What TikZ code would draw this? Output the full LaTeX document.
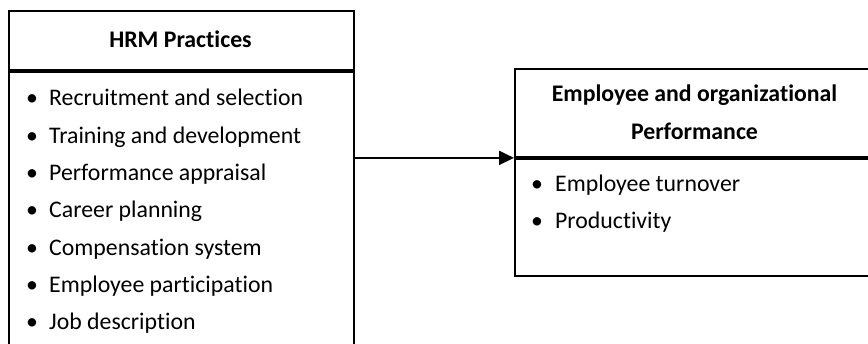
\documentclass[tikz,border=0pt]{standalone}
\usepackage{fontspec}
\setmainfont{Carlito}[Ligatures=NoCommon]
\usetikzlibrary{arrows.meta}
\begin{document}
\begin{tikzpicture}[x=1pt,y=-1pt,
  box/.style={draw, line width=1.9pt, inner sep=0pt, anchor=north west},
  item/.style={anchor=base west, inner sep=0pt, font=\fontsize{23.8}{28}\selectfont},
  head/.style={anchor=base, inner sep=0pt, font=\fontsize{23.8}{28}\selectfont\bfseries},
  link/.style={line width=1.9pt, -{Triangle[length=15pt,width=14pt]}}]
\useasboundingbox (0,0) rectangle (868,343);
% left box
\node[box, minimum width=345pt, minimum height=59pt] (lhead) at (8,10) {};
\node[box, minimum width=345pt, minimum height=300pt] (lbody) at (lhead.south west) {};
\node[head] (lt) at (180.5,47) {HRM Practices};
\node[item] (l1) at (26,105.7) {\makebox[23pt][l]{•}Recruitment and selection};
\node[item] (l2) at (26,143.0) {\makebox[23pt][l]{•}Training and development};
\node[item] (l3) at (26,180.4) {\makebox[23pt][l]{•}Performance appraisal};
\node[item] (l4) at (26,217.7) {\makebox[23pt][l]{•}Career planning};
\node[item] (l5) at (26,255.1) {\makebox[23pt][l]{•}Compensation system};
\node[item] (l6) at (26,292.4) {\makebox[23pt][l]{•}Employee participation};
\node[item] (l7) at (26,329.8) {\makebox[23pt][l]{•}Job description};
% right box
\node[box, minimum width=361pt, minimum height=88pt] (rhead) at (514,68) {};
\node[box, minimum width=361pt, minimum height=117pt] (rbody) at (rhead.south west) {};
\node[head] (rt1) at (694.5,101.7) {Employee and organizational};
\node[head] (rt2) at (694.5,139.3) {Performance};
\node[item] (r1) at (531,191.7) {\makebox[24pt][l]{•}Employee turnover};
\node[item] (r2) at (531,228.3) {\makebox[24pt][l]{•}Productivity};
% connector
\draw[link] (lbody.east |- rbody.north west) -- (rbody.north west);
\end{tikzpicture}
\end{document}
